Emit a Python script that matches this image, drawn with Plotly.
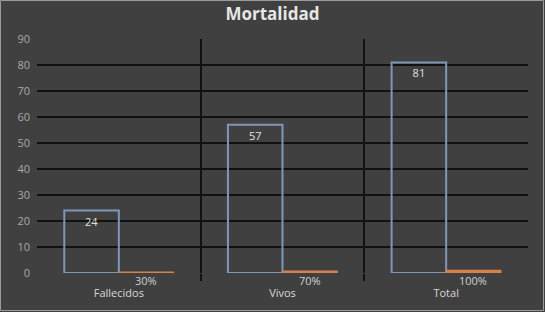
import plotly.graph_objects as go

categories = ["Fallecidos", "Vivos", "Total"]
counts = [24, 57, 81]
percent_values = [0.3, 0.7, 1.0]
percent_labels = ["30%", "70%", "100%"]
y_ticks = [0, 10, 20, 30, 40, 50, 60, 70, 80, 90]

idx = list(range(len(categories)))
w = 1 / 3

fig = go.Figure()
fig.add_trace(go.Bar(
    x=[i - w / 2 for i in idx], y=counts, width=w,
    marker=dict(color="rgba(0,0,0,0)", line=dict(color="#7d97b8", width=2)),
    text=[str(c) for c in counts], textposition="inside", insidetextanchor="end",
    textfont=dict(color="#e0e0e0", size=11, family="Open Sans"),
    cliponaxis=False, hoverinfo="skip", showlegend=False,
))
fig.add_trace(go.Bar(
    x=[i + w / 2 for i in idx], y=percent_values, width=w,
    marker=dict(color="#d5834c", line=dict(color="#d5834c", width=1.5)),
    hoverinfo="skip", showlegend=False,
))
for i, lab in zip(idx, percent_labels):
    fig.add_annotation(x=i + w / 2, y=0, xref="x", yref="y", text=lab,
                       showarrow=False, yanchor="top", yshift=2,
                       font=dict(color="#d0d0d0", size=11, family="Open Sans"))

fig.update_layout(
    width=545, height=312,
    margin=dict(l=37, r=17, t=39, b=39),
    paper_bgcolor="#404040", plot_bgcolor="#404040",
    title=dict(text="<b>Mortalidad</b>", x=0.5, xref="container", xanchor="center",
               y=1 - 14 / 312, yref="container", yanchor="middle",
               font=dict(size=17, color="#e6e6e6", family="Open Sans")),
    barmode="overlay",
    xaxis=dict(range=[-0.5, 2.5], tickmode="array", tickvals=idx, ticktext=categories,
               showgrid=False, zeroline=False, showline=False, ticks="",
               ticklabelstandoff=12,
               tickfont=dict(color="#d9d9d9", size=11, family="Open Sans"),
               minor=dict(tickmode="array", tickvals=[0.5, 1.5], showgrid=True,
                          gridcolor="#111111", gridwidth=2, ticks="outside",
                          ticklen=7, tickcolor="#111111", tickwidth=2)),
    yaxis=dict(range=[0, 90], tickmode="array", tickvals=y_ticks, showgrid=False,
               zeroline=False, showline=False, ticks="", ticklabelstandoff=6,
               tickfont=dict(color="#a9a9a9", size=11, family="Open Sans"),
               minor=dict(tickmode="array", tickvals=y_ticks[1:], showgrid=True,
                          gridcolor="#111111", gridwidth=2)),
    shapes=[dict(type="rect", xref="paper", yref="paper",
                 x0=-36.5 / 491, x1=1 + 15.5 / 491, y0=-37.5 / 234, y1=1 + 38.5 / 234,
                 line=dict(color="#9a9a9a", width=1), layer="below")],
)

fig.write_html("out.html", config={"displayModeBar": False},
               post_script="document.body.style.margin='0';document.body.style.overflow='hidden';")
